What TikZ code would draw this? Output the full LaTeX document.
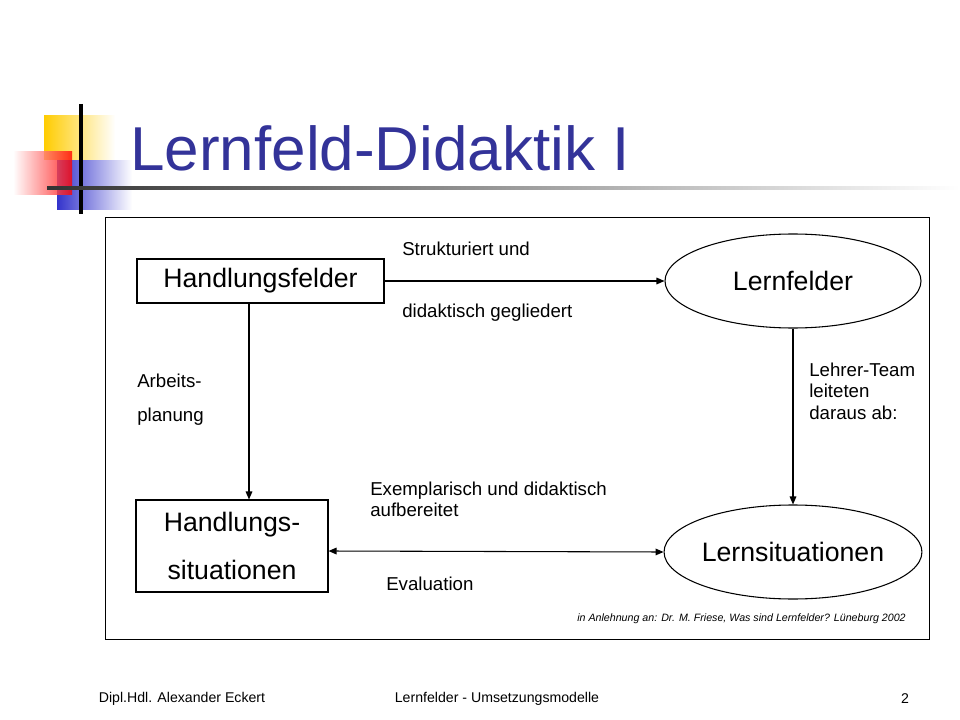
\documentclass[tikz,border=0pt]{standalone}
\usepackage{fontspec}
\setmainfont{Liberation Sans}
\usetikzlibrary{arrows.meta,shapes.geometric,fadings}
\definecolor{titleblue}{HTML}{333399}
\definecolor{logoyellow}{HTML}{FFCC00}
\definecolor{logoblue}{HTML}{3333CC}
\newlength{\pxu}\setlength{\pxu}{0.75pt}
\tikzfading[name=fade right, left color=transparent!0, right color=transparent!100]
\tikzset{
  box/.style={draw,line width=0.8pt,minimum width=247\pxu,minimum height=44\pxu,font=\fontsize{20}{24}\selectfont,inner sep=0},
  ell/.style={draw,line width=0.8pt,ellipse,minimum width=256\pxu,minimum height=94\pxu,font=\fontsize{20}{24}\selectfont,inner sep=0},
  lab/.style={font=\fontsize{14}{17}\selectfont,align=left,anchor=west,inner sep=0},
  arr/.style={line width=0.8pt,-{Triangle[length=6pt,width=5pt]}},
}
\begin{document}
\begin{tikzpicture}[x=0.75pt,y=-0.75pt]
\useasboundingbox (0,0) rectangle (960,720);
% logo
\fill[logoyellow,path fading=fade right] (44,115) rectangle (115,160);
\fill[logoblue,path fading=fade right] (57,160) rectangle (132,210);
\shade[left color=white, right color=red, opacity=0.8] (13,152) rectangle (72,195);
\draw[line width=2.5pt] (81,104) -- (81,214);
\shade[left color=black!80,right color=white] (47,186.5) rectangle (960,189.5);
\node[anchor=west,text=titleblue,font=\fontsize{46.5}{52}\selectfont,inner sep=0] (title) at (130,148) {Lernfeld-Didaktik I};
% frame
\draw (105,217) rectangle (929,639);
\node[box] (hf) at (260.5,281) {Handlungsfelder};
\node[ell] (lf) at (793,281) {Lernfelder};
\node[ell] (ls) at (793,552) {Lernsituationen};
\node[box,minimum width=192\pxu,minimum height=92\pxu,align=center,font=\fontsize{20}{36}\selectfont] (hs) at (232,546) {Handlungs-\\situationen};
\draw[arr] (hf.east) -- (lf.west);
\draw[arr] (hf.south -| 249,0) -- (hs.north -| 249,0);
\draw[arr] (lf.south) -- (ls.north);
\draw[line width=0.8pt,{Triangle[length=6pt,width=5pt]}-{Triangle[length=6pt,width=5pt]}] (hs.east |- 0,551) -- (ls.west);
\node[lab] (l1) at (402,249) {Strukturiert und};
\node[lab] (l2) at (402,313) {didaktisch gegliedert};
\node[lab,font=\fontsize{14}{25.5}\selectfont] (l3) at (137,400) {Arbeits-\\planung};
\node[lab,font=\fontsize{14}{16}\selectfont] (l4) at (809,391) {Lehrer-Team\\leiteten\\daraus ab:};
\node[lab,font=\fontsize{14}{16}\selectfont] (l5) at (370,499) {Exemplarisch und didaktisch\\aufbereitet};
\node[lab] (l6) at (386,584) {Evaluation};
\node[anchor=east,font=\itshape\fontsize{8}{9}\selectfont,inner sep=0] (src) at (906,619) {in Anlehnung an: Dr. M. Friese, Was sind Lernfelder? Lüneburg 2002};
% footer
\node[font=\fontsize{10.6}{12}\selectfont,inner sep=0] (f1) at (182,699) {Dipl.Hdl. Alexander Eckert};
\node[font=\fontsize{10.6}{12}\selectfont,inner sep=0] (f2) at (497,699) {Lernfelder - Umsetzungsmodelle};
\node[font=\fontsize{10.6}{12}\selectfont,inner sep=0] (f3) at (905,699) {2};
\end{tikzpicture}
\end{document}
